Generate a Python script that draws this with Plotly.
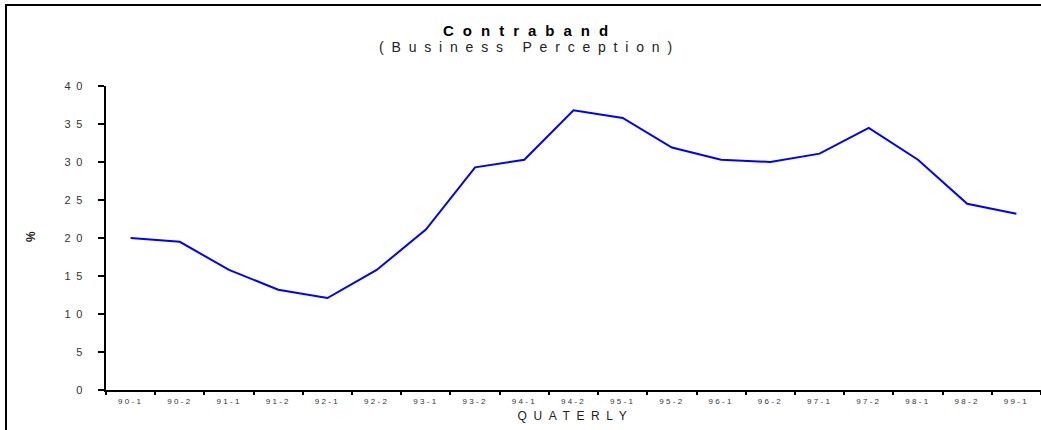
import plotly.graph_objects as go

quarters = ['90-1', '90-2', '91-1', '91-2', '92-1', '92-2', '93-1', '93-2', '94-1', '94-2',
            '95-1', '95-2', '96-1', '96-2', '97-1', '97-2', '98-1', '98-2', '99-1']
contraband = [20.0, 19.5, 15.8, 13.2, 12.1, 15.8, 21.1, 29.3, 30.3, 36.8,
              35.8, 31.9, 30.3, 30.0, 31.1, 34.5, 30.3, 24.5, 23.2]
y_ticks = [0, 5, 10, 15, 20, 25, 30, 35, 40]

W, H = 1041, 430
L, R, T, B = 106, 0, 86, 40
pw, ph = W - L - R, H - T - B


def px_x(x):
    return (x - L) / pw


def px_y(y):
    return (H - B - y) / ph


def label(text, x, y, size, color='#222222', angle=0):
    return dict(text=text, xref='paper', yref='paper', x=px_x(x), y=px_y(y),
                xanchor='center', yanchor='middle', textangle=angle,
                showarrow=False, font=dict(size=size, color=color))


font = 'Liberation Sans, Arial, sans-serif'

fig = go.Figure()
fig.add_trace(go.Scatter(
    x=quarters,
    y=contraband,
    mode='lines',
    line=dict(color='#0000FF', width=2),
    showlegend=False,
    hoverinfo='skip'
))

fig.update_layout(
    width=W,
    height=H,
    margin=dict(l=L, r=R, t=T, b=B),
    paper_bgcolor='white',
    plot_bgcolor='white',
    font=dict(family=font, color='#222222'),
    xaxis=dict(
        type='category',
        range=[-0.5, len(quarters) - 0.5],
        tickson='boundaries',
        ticks='outside',
        ticklen=3,
        tickwidth=2,
        tickcolor='black',
        showline=True,
        linecolor='black',
        linewidth=2,
        showgrid=False,
        zeroline=False,
        tickfont=dict(size=8, family=font, color='#333333'),
        ticklabelstandoff=2,
    ),
    yaxis=dict(
        range=[0, 40],
        tickmode='array',
        tickvals=y_ticks,
        ticks='outside',
        ticklen=6,
        tickwidth=2,
        tickcolor='black',
        showline=True,
        linecolor='black',
        linewidth=2,
        showgrid=False,
        zeroline=False,
        tickfont=dict(size=11, family=font, color='#333333'),
        ticklabelstandoff=8,
    ),
    # outer frame, runs off the right and bottom edges like the original
    shapes=[dict(
        type='rect', xref='paper', yref='paper',
        x0=px_x(6), x1=px_x(W + 20), y0=px_y(H + 20), y1=px_y(5),
        line=dict(color='black', width=2), fillcolor='rgba(0,0,0,0)', layer='below'
    )],
    annotations=[
        label('<b>Contraband</b>', 530, 30, 15, color='black'),
        label('(Business Perception)', 529, 47, 14),
        label('<b>%</b>', 31, 237, 12, angle=-90),
        label('QUATERLY', 575, 416, 12),
    ],
)

# wide character spacing of the original chart, body margin removed
post = """
document.body.style.margin = '0px';
var gd = document.getElementById('{plot_id}');
function spacing() {
  function set(sel, v) {
    gd.querySelectorAll(sel).forEach(function (t) { t.style.letterSpacing = v; });
  }
  set('.xtick text', '2.3px');
  set('.ytick text', '5.5px');
  set('.annotation[data-index="0"] text', '9px');
  set('.annotation[data-index="1"] text', '7.8px');
  set('.annotation[data-index="3"] text', '6.6px');
}
spacing();
gd.on('plotly_afterplot', spacing);
"""

fig.write_html('out.html', post_script=post, config={'displayModeBar': False})
